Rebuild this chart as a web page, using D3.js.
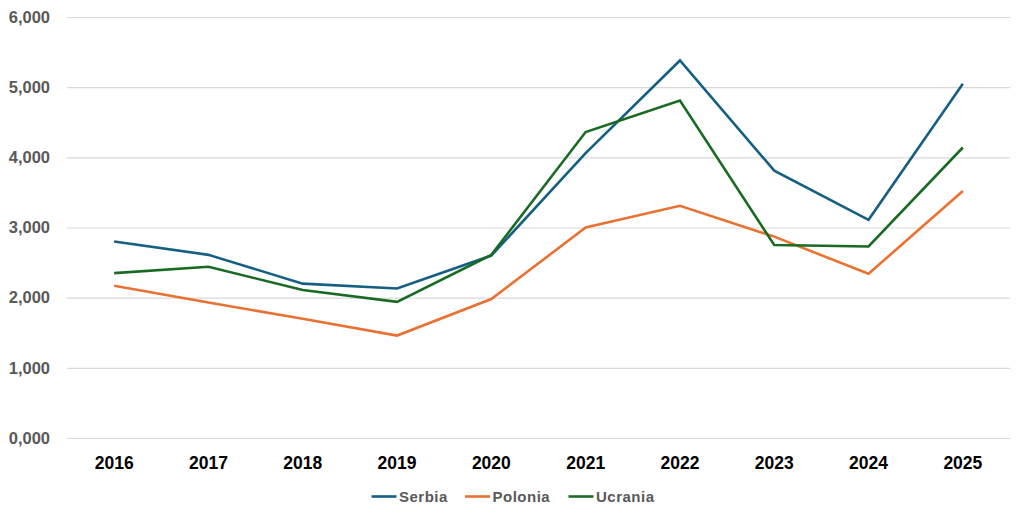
<!DOCTYPE html>
<html><head><meta charset="utf-8">
<script src="https://cdn.jsdelivr.net/npm/d3@7"></script>
<style>body{margin:0;background:#fff}svg{display:block}</style>
</head><body><svg id="c" width="1024" height="519"></svg>
<script>
const years = ["2016","2017","2018","2019","2020","2021","2022","2023","2024","2025"];
const serbia  = [2800,2610,2200,2130,2600,4060,5380,3810,3110,5050];
const polonia = [2170,1930,1700,1460,1980,3000,3310,2870,2340,3520];
const ucrania = [2350,2440,2110,1940,2610,4360,4810,2750,2730,4140];
const yTicks = [0,1000,2000,3000,4000,5000,6000];
const yTickLabels = ["0,000","1,000","2,000","3,000","4,000","5,000","6,000"];
const seriesNames = ["Serbia","Polonia","Ucrania"];
const seriesColors = ["#156082","#E97132","#196B24"];

const svg = d3.select("#c");
const mLeft = 67, mRight = 1010, mTop = 17, mBottom = 438;
const x = d3.scaleBand().domain(years).range([mLeft, mRight]);
const y = d3.scaleLinear().domain([0, 6000]).range([mBottom, mTop]);
const font = "'Liberation Sans', Arial, sans-serif";

const yAxis = d3.axisLeft(y).tickValues(yTicks).tickSize(-(mRight-mLeft)).tickPadding(17)
  .tickFormat((d,i)=>yTickLabels[i]);
const gy = svg.append("g").attr("transform",`translate(${mLeft},0)`).call(yAxis);
gy.select(".domain").remove();
gy.selectAll(".tick line").attr("stroke","#d9d9d9").attr("stroke-width",1.2);
gy.selectAll(".tick text").attr("fill","#595959").attr("font-family",font)
  .attr("font-weight","bold").attr("font-size","16.5px");

const xAxis = d3.axisBottom(x).tickSize(0).tickPadding(19);
const gx = svg.append("g").attr("transform",`translate(0,${mBottom})`).call(xAxis);
gx.select(".domain").remove();
gx.selectAll(".tick text").attr("fill","#000").attr("font-family",font)
  .attr("font-weight","bold").attr("font-size","17.5px");

const line = d3.line().x((d,i)=>x(years[i])+x.bandwidth()/2).y(d=>y(d));
[serbia, polonia, ucrania].forEach((s,k)=>{
  svg.append("path").datum(s).attr("d",line).attr("fill","none")
    .attr("stroke",seriesColors[k]).attr("stroke-width",2.6)
    .attr("stroke-linejoin","miter");
});

const legX = [371.5, 465, 568.5];
const lg = svg.append("g");
seriesNames.forEach((n,k)=>{
  lg.append("line").attr("x1",legX[k]).attr("x2",legX[k]+25).attr("y1",496.5).attr("y2",496.5)
    .attr("stroke",seriesColors[k]).attr("stroke-width",2.6);
  lg.append("text").attr("x",legX[k]+27.5).attr("y",501.7).text(n)
    .attr("fill","#595959").attr("font-family",font).attr("font-weight","bold")
    .attr("font-size","15px").attr("letter-spacing","0.5px");
});
</script></body></html>
